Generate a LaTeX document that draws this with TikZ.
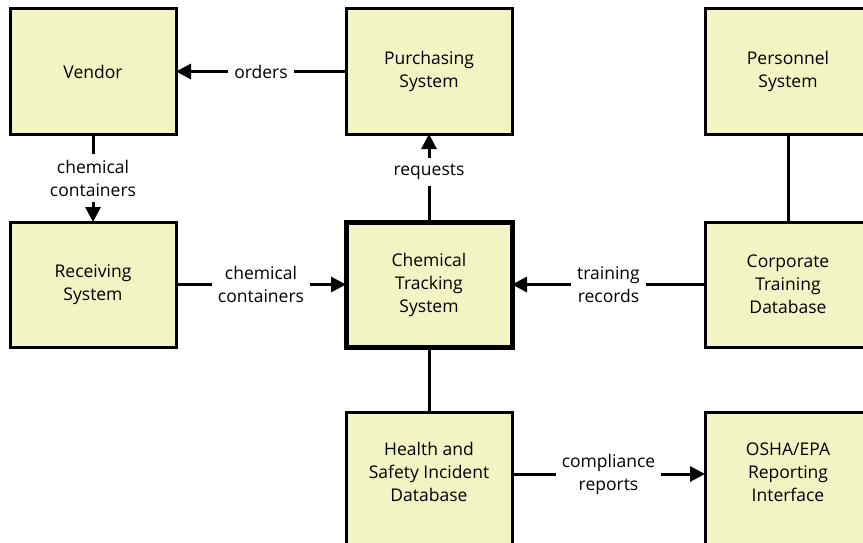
\documentclass[tikz,border=0pt]{standalone}
\usepackage{fontspec}
\setmainfont{Open Sans}
\usetikzlibrary{positioning,arrows.meta}
\definecolor{boxfill}{RGB}{242,244,196}
\begin{document}
\begin{tikzpicture}
	[x=1pt, y=1pt,
	font=\fontsize{17.5}{23}\selectfont,
	block/.style = {draw, line width=3pt, fill=boxfill, outer sep=0pt,
		minimum width=166pt, minimum height=125pt, align=center},
	core/.style = {block, line width=5pt},
	tall/.style = {block, minimum height=150pt, text depth=30pt},
	flow/.style = {-{Triangle[length=15pt,width=15pt]}, line width=3pt},
	link/.style = {line width=3pt},
	tag/.style = {fill=white, inner sep=6pt, align=center}]
\clip (0,0) rectangle (863,-543);
\node[block] (vendor) at (93,-71.5) {Vendor};
\node[block] (purch) [right=170pt of vendor] {Purchasing\\System};
\node[block] (personnel) [right=193pt of purch] {Personnel\\System};
\node[block] (receiving) [below=88pt of vendor] {Receiving\\System};
\node[core] (chem) [below=88pt of purch] {Chemical\\Tracking\\System};
\node[block] (corp) [below=88pt of personnel] {Corporate\\Training\\Database};
\node[tall] (health) [below=65pt of chem] {Health and\\Safety Incident\\Database};
\node[tall] (osha) [right=193pt of health] {OSHA/EPA\\Reporting\\Interface};
\draw[flow] (purch) -- node[tag] {orders} (vendor);
\draw[flow] (vendor) -- node[tag] {chemical\\containers} (receiving);
\draw[flow] (receiving) -- node[tag] {chemical\\containers} (chem);
\draw[flow] (chem) -- node[tag, pos=0.57] {requests} (purch);
\draw[flow] (corp) -- node[tag] {training\\records} (chem);
\draw[flow] ([yshift=13pt]health.east) -- node[tag] {compliance\\reports} ([yshift=13pt]osha.west);
\draw[link] (personnel) -- (corp);
\draw[link] (chem) -- (health);
\end{tikzpicture}
\end{document}
